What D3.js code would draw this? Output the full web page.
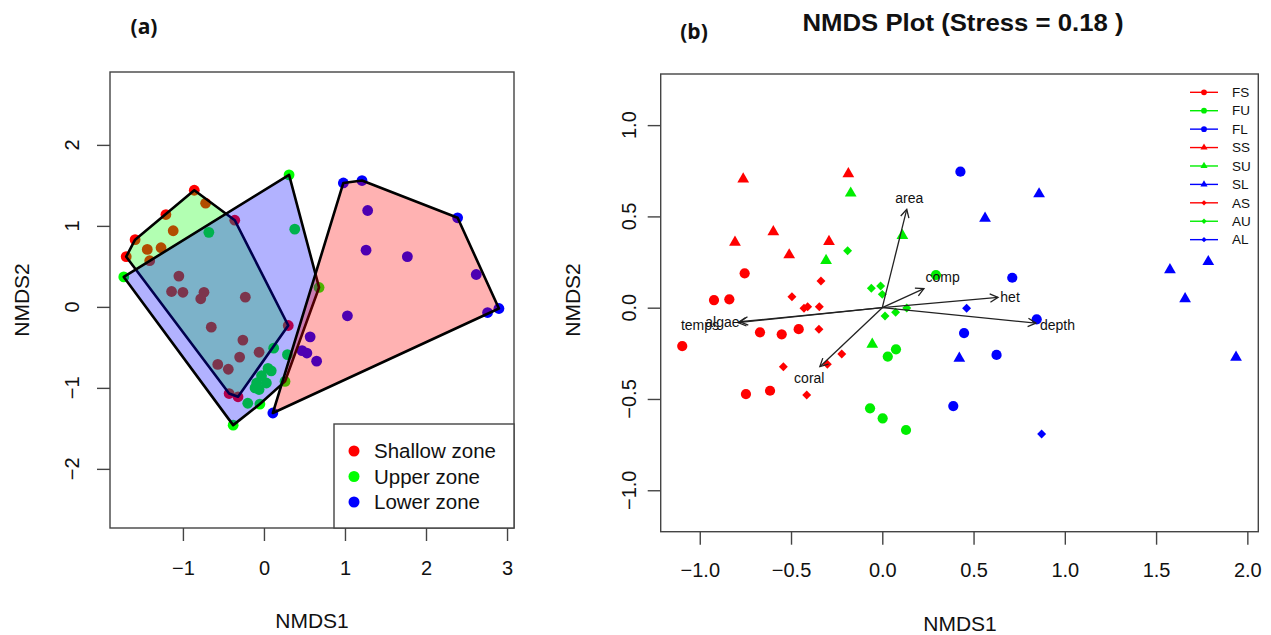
<!DOCTYPE html>
<meta charset="utf-8">
<style>
body { margin: 0; background: #fff; }
text { font-family: "Liberation Sans", Arial, sans-serif; fill: #111; }
.frame { fill: none; stroke: #444; stroke-width: 1.4px; }
.tick line { stroke: #444; stroke-width: 1.4px; }
</style>
<body>
<script src="https://d3js.org/d3.v7.min.js"></script>
<script>

// ---- panel (a): NMDS points per zone ----
var zonesA = ["Shallow zone", "Upper zone", "Lower zone"];
var shallowA = [[-1.70,0.62],[-1.59,0.83],[-1.21,1.14],[-0.86,1.44],[-0.72,1.28],[-0.36,1.07],[-1.12,0.94],
  [-1.44,0.71],[-1.27,0.73],[-1.41,0.57],[-1.05,0.38],[-1.14,0.19],[-1.00,0.18],[-0.74,0.18],[-0.78,0.10],
  [-0.23,0.12],[-0.65,-0.25],[0.30,-0.23],[-0.26,-0.41],[-0.06,-0.56],[-0.30,-0.62],[-0.57,-0.71],
  [-0.44,-0.77],[-0.43,-1.07],[-0.32,-1.11]];
var upperA = [[-1.73,0.37],[-0.68,0.92],[0.31,1.63],[0.38,0.96],[0.68,0.24],[0.12,-0.51],[0.29,-0.59],
  [0.05,-0.76],[0.09,-0.79],[-0.03,-0.85],[0.03,-0.94],[-0.09,-0.94],[-0.11,-1.00],[-0.06,-1.02],
  [0.26,-0.92],[-0.20,-1.19],[-0.05,-1.20],[-0.38,-1.46]];
var lowerA = [[0.11,-1.31],[0.98,1.53],[1.21,1.56],[1.28,1.19],[1.26,0.70],[1.77,0.62],[2.39,1.10],
  [2.62,0.40],[2.90,-0.02],[2.76,-0.07],[1.03,-0.11],[0.57,-0.37],[0.47,-0.54],[0.53,-0.57],[0.65,-0.67]];
var xTicksA = [-1, 0, 1, 2, 3];
var yTicksA = [-2, -1, 0, 1, 2];

// ---- panel (b): NMDS points per group ----
var groupsB = ["FS","FU","FL","SS","SU","SL","AS","AU","AL"];
var FS = [[-0.754,0.188],[-0.922,0.042],[-0.838,0.046],[-0.670,-0.135],[-0.551,-0.146],[-0.458,-0.118],
  [-1.096,-0.210],[-0.747,-0.473],[-0.615,-0.455]];
var FU = [[0.294,0.179],[0.075,-0.228],[0.030,-0.268],[-0.067,-0.551],[0.002,-0.606],[0.130,-0.670]];
var FL = [[0.428,0.745],[0.712,0.164],[0.448,-0.139],[0.846,-0.064],[0.626,-0.259],[0.389,-0.539]];
var SS = [[-0.762,0.705],[-0.186,0.733],[-0.597,0.416],[-0.807,0.358],[-0.510,0.289],[-0.292,0.362]];
var SU = [[-0.173,0.627],[-0.308,0.258],[0.110,0.395],[-0.055,-0.201]];
var SL = [[0.563,0.489],[0.859,0.623],[1.576,0.207],[1.786,0.252],[1.659,0.049],[0.422,-0.277],[1.938,-0.272]];
var AS = [[-0.336,0.146],[-0.495,0.060],[-0.429,-0.003],[-0.409,0.005],[-0.345,0.005],[-0.347,-0.118],
  [-0.222,-0.254],[-0.301,-0.310],[-0.542,-0.323],[-0.414,-0.478]];
var AU = [[-0.190,0.312],[-0.060,0.106],[-0.009,0.119],[0.000,0.073],[0.015,-0.045],[0.073,-0.025],[0.134,-0.002]];
var AL = [[0.462,-0.003],[0.873,-0.692]];
var seriesB = [FS, FU, FL, SS, SU, SL, AS, AU, AL];

// environmental vectors
var vecNames = ["area","comp","het","depth","algae","temps","coral"];
var vecEnds = [[0.134,0.539],[0.228,0.104],[0.634,0.057],[0.842,-0.085],[-0.780,-0.077],[-0.790,-0.082],[-0.342,-0.323]];
var vecLabels = [[0.148,0.600],[0.331,0.167],[0.700,0.060],[0.960,-0.095],[-0.876,-0.080],[-0.999,-0.095],[-0.400,-0.384]];
var xTicksB = [-1.0, -0.5, 0.0, 0.5, 1.0, 1.5, 2.0];
var yTicksB = [-1.0, -0.5, 0.0, 0.5, 1.0];

var W = 1271, H = 635;
var svg = d3.select("body").append("svg").attr("width", W).attr("height", H);

// ================= panel (a) =================
var xa = d3.scaleLinear().domain([-1.90, 3.086]).range([110, 514]);
var ya = d3.scaleLinear().domain([-2.73, 2.90]).range([528, 72]);
var dotCol = ["#ff0000", "#00ff00", "#0000ff"];
var hullFill = ["#00ff00", "#0000ff", "#ff0000"];
var setsA = [shallowA, upperA, lowerA];

var ga = svg.append("g");

// points go under the hulls
setsA.forEach(function(pts, i) {
  ga.selectAll(null).data(pts).enter().append("circle")
    .attr("cx", function(d) { return xa(d[0]); })
    .attr("cy", function(d) { return ya(d[1]); })
    .attr("r", 5.4)
    .attr("fill", dotCol[i]);
});

setsA.forEach(function(pts, i) {
  var hull = d3.polygonHull(pts.map(function(d) { return [xa(d[0]), ya(d[1])]; }));
  ga.append("path")
    .attr("d", "M" + hull.join("L") + "Z")
    .attr("fill", hullFill[i])
    .attr("fill-opacity", 0.3)
    .attr("stroke", "#000")
    .attr("stroke-width", 2.6)
    .attr("stroke-linejoin", "round");
});

// axes a
ga.append("g").attr("transform", "translate(0,528)")
  .call(d3.axisBottom(xa).tickValues(xTicksA).tickSize(13).tickPadding(20).tickFormat(d3.format("d")))
  .call(function(g) { g.select(".domain").remove(); })
  .selectAll("text").style("font-size", "20px").style("font-family", "Liberation Sans, Arial").attr("fill", "#111");

ga.append("g").attr("transform", "translate(110,0)")
  .call(d3.axisLeft(ya).tickValues(yTicksA).tickSize(13).tickFormat(""))
  .call(function(g) { g.select(".domain").remove(); });

ga.selectAll(null).data(yTicksA).enter().append("text")
  .attr("transform", function(d) { return "translate(72," + ya(d) + ") rotate(-90)"; })
  .attr("text-anchor", "middle").attr("dy", "0.35em")
  .style("font-size", "20px")
  .text(function(d) { return d3.format("d")(d); });

ga.append("rect").attr("class", "frame").attr("x", 110).attr("y", 72).attr("width", 404).attr("height", 456);

ga.append("text").attr("x", 312).attr("y", 628).attr("text-anchor", "middle")
  .style("font-size", "21px").text("NMDS1");
ga.append("text").attr("transform", "translate(22,300) rotate(-90)").attr("text-anchor", "middle")
  .attr("dy", "0.35em").style("font-size", "21px").text("NMDS2");

// legend a
var lga = ga.append("g");
lga.append("rect").attr("x", 334).attr("y", 424).attr("width", 180).attr("height", 104)
  .attr("fill", "#fff").attr("stroke", "#444").attr("stroke-width", 1.4);
zonesA.forEach(function(z, i) {
  var yy = 451 + i * 25.5;
  lga.append("circle").attr("cx", 354).attr("cy", yy).attr("r", 5.5).attr("fill", dotCol[i]);
  lga.append("text").attr("x", 374).attr("y", yy).attr("dy", "0.35em").style("font-size", "20.5px").text(z);
});

svg.append("text").attr("x", 144).attr("y", 34).attr("text-anchor", "middle")
  .style("font-family", "Open Sans, sans-serif").style("font-weight", "bold").style("font-size", "21px").text("(a)");

// ================= panel (b) =================
var xb = d3.scaleLinear().domain([-1.214, 2.060]).range([660.7, 1258.3]);
var yb = d3.scaleLinear().domain([-1.227, 1.28]).range([531.7, 74]);
var colB = ["#ff0000", "#00ee00", "#0000ff"];
var shapeB = ["circle", "triangle", "diamond"];
var gb = svg.append("g");

function symbolPath(shape, big) {
  if (shape === "circle") return d3.symbol(d3.symbolCircle, big ? 82 : 26)();
  if (shape === "triangle") return d3.symbol(d3.symbolTriangle, big ? 60 : 22)();
  return d3.symbol(d3.symbolSquare, big ? 40 : 14)();
}

seriesB.forEach(function(pts, i) {
  var shape = shapeB[Math.floor(i / 3)], col = colB[i % 3];
  gb.selectAll(null).data(pts).enter().append("path")
    .attr("d", symbolPath(shape, true))
    .attr("transform", function(d) {
      return "translate(" + xb(d[0]) + "," + yb(d[1]) + ")" + (shape === "diamond" ? " rotate(45)" : "");
    })
    .attr("fill", col);
});

// vectors
var defs = svg.append("defs");
defs.append("marker").attr("id", "arr").attr("viewBox", "-10 -6 12 12")
  .attr("refX", 0).attr("refY", 0).attr("markerWidth", 12).attr("markerHeight", 12)
  .attr("markerUnits", "userSpaceOnUse").attr("orient", "auto")
  .append("path").attr("d", "M-8,-4.2L0,0L-8,4.2").attr("fill", "none").attr("stroke", "#222").attr("stroke-width", 1.3);

vecEnds.forEach(function(e, i) {
  gb.append("line")
    .attr("x1", xb(0)).attr("y1", yb(0)).attr("x2", xb(e[0])).attr("y2", yb(e[1]))
    .attr("stroke", "#222").attr("stroke-width", 1.3).attr("marker-end", "url(#arr)");
});
vecLabels.forEach(function(p, i) {
  gb.append("text").attr("x", xb(p[0])).attr("y", yb(p[1])).attr("dy", "0.35em")
    .attr("text-anchor", "middle").style("font-size", "14px").attr("fill", "#333").text(vecNames[i]);
});

// axes b
gb.append("g").attr("transform", "translate(0,531.7)")
  .call(d3.axisBottom(xb).tickValues(xTicksB).tickSize(13).tickPadding(18).tickFormat(d3.format(".1f")))
  .call(function(g) { g.select(".domain").remove(); })
  .selectAll("text").style("font-size", "20px").style("font-family", "Liberation Sans, Arial").attr("fill", "#111");

gb.append("g").attr("transform", "translate(660.7,0)")
  .call(d3.axisLeft(yb).tickValues(yTicksB).tickSize(13).tickFormat(""))
  .call(function(g) { g.select(".domain").remove(); });

gb.selectAll(null).data(yTicksB).enter().append("text")
  .attr("transform", function(d) { return "translate(629," + yb(d) + ") rotate(-90)"; })
  .attr("text-anchor", "middle").attr("dy", "0.35em")
  .style("font-size", "20px")
  .text(function(d) { return d3.format(".1f")(d); });

gb.append("rect").attr("class", "frame").attr("x", 660.7).attr("y", 74).attr("width", 597.6).attr("height", 457.7);

gb.append("text").attr("x", 960).attr("y", 631).attr("text-anchor", "middle")
  .style("font-size", "21px").text("NMDS1");
gb.append("text").attr("transform", "translate(573,300) rotate(-90)").attr("text-anchor", "middle")
  .attr("dy", "0.35em").style("font-size", "21px").text("NMDS2");

// legend b
groupsB.forEach(function(g, i) {
  var yy = 92.3 + i * 18.42, shape = shapeB[Math.floor(i / 3)], col = colB[i % 3];
  gb.append("line").attr("x1", 1190).attr("x2", 1218).attr("y1", yy).attr("y2", yy)
    .attr("stroke", col).attr("stroke-width", 1.4);
  gb.append("path").attr("d", symbolPath(shape, false))
    .attr("transform", "translate(1204," + yy + ")" + (shape === "diamond" ? " rotate(45)" : ""))
    .attr("fill", col);
  gb.append("text").attr("x", 1232).attr("y", yy).attr("dy", "0.35em").style("font-size", "13.5px").text(g);
});

svg.append("text").attr("x", 963).attr("y", 31).attr("text-anchor", "middle")
  .attr("textLength", 321).attr("lengthAdjust", "spacingAndGlyphs")
  .style("font-weight", "bold").style("font-size", "24px").text("NMDS Plot (Stress = 0.18 )");
svg.append("text").attr("x", 694).attr("y", 39).attr("text-anchor", "middle")
  .style("font-family", "Open Sans, sans-serif").style("font-weight", "bold").style("font-size", "21px").text("(b)");

</script>
</body>
